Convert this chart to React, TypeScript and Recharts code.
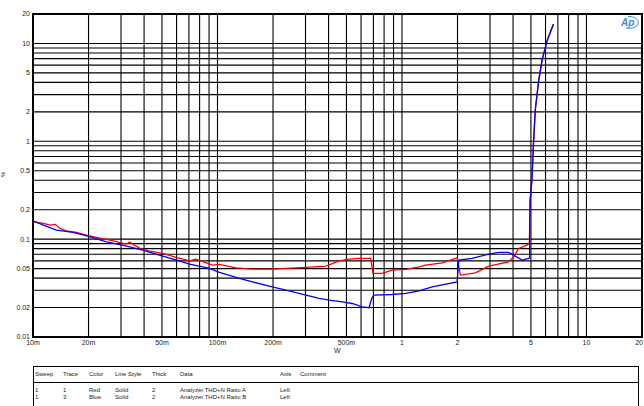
import React from "react";
import { LineChart, Line, XAxis, YAxis, CartesianGrid, ReferenceArea } from "recharts";

const xGridTicks = [
  0.01, 0.02, 0.03, 0.04, 0.05, 0.06, 0.07, 0.08, 0.09,
  0.1, 0.2, 0.3, 0.4, 0.5, 0.6, 0.7, 0.8, 0.9,
  1, 2, 3, 4, 5, 6, 7, 8, 9, 10, 20,
];
const xLabelValues = [0.01, 0.02, 0.05, 0.1, 0.2, 0.5, 1, 2, 5, 10, 20];
const xLabelTexts = ["10m", "20m", "50m", "100m", "200m", "500m", "1", "2", "5", "10", "20"];

const yGridTicks = [
  0.01, 0.02, 0.03, 0.04, 0.05, 0.06, 0.07, 0.08, 0.09,
  0.1, 0.2, 0.3, 0.4, 0.5, 0.6, 0.7, 0.8, 0.9,
  1, 2, 3, 4, 5, 6, 7, 8, 9, 10, 20,
];
const yLabelValues = [0.01, 0.02, 0.05, 0.1, 0.2, 0.5, 1, 2, 5, 10, 20];
const yLabelTexts = ["0.01", "0.02", "0.05", "0.1", "0.2", "0.5", "1", "2", "5", "10", "20"];

// Trace 1 (Red) – Analyzer.THD+N Ratio A : power (W) vs THD+N (%)
const redW = [
  0.01, 0.0114, 0.0124, 0.0132, 0.014, 0.0152, 0.0172, 0.0195, 0.0221, 0.0261,
  0.0321, 0.0334, 0.0379, 0.0429, 0.0506, 0.0598, 0.0706, 0.076, 0.0943, 0.1025,
  0.126, 0.155, 0.198, 0.235, 0.302, 0.387, 0.456, 0.517, 0.586, 0.677,
  0.697, 0.78, 0.883, 1.047, 1.236, 1.343, 1.652, 1.99, 2.075, 2.5,
  2.95, 3.78, 4.03, 4.29, 4.76, 4.9, 4.93, 4.95, 5.06, 5.17,
  5.28, 5.51, 5.75, 6.13, 6.62,
];
const redPct = [
  0.15, 0.145, 0.139, 0.1416, 0.1288, 0.1217, 0.117, 0.11, 0.1042, 0.0978,
  0.0889, 0.0933, 0.0804, 0.0755, 0.0714, 0.065, 0.0601, 0.0625, 0.0543, 0.0552,
  0.0509, 0.0494, 0.0494, 0.0502, 0.0514, 0.053, 0.0601, 0.0625, 0.0636, 0.0636,
  0.0447, 0.0447, 0.0482, 0.049, 0.0521, 0.0543, 0.0573, 0.0645, 0.0429, 0.0453,
  0.053, 0.0586, 0.066, 0.0804, 0.0869, 0.0904, 0.15, 0.25, 0.4, 1.0,
  2.1, 4.2, 6.8, 10.8, 15.7,
];

// Trace 3 (Blue) – Analyzer.THD+N Ratio B
const blueW = [
  0.01, 0.0114, 0.0134, 0.0165, 0.0198, 0.025, 0.0306, 0.0393, 0.0505, 0.06,
  0.0706, 0.0905, 0.1025, 0.1315, 0.155, 0.198, 0.235, 0.302, 0.356, 0.403,
  0.476, 0.537, 0.608, 0.663, 0.686, 0.706, 0.883, 1.047, 1.236, 1.458,
  1.99, 2.033, 2.4, 2.95, 3.34, 3.78, 4.03, 4.47, 4.86, 4.92,
  4.93, 4.95, 5.06, 5.17, 5.28, 5.51, 5.75, 6.13, 6.62,
];
const bluePct = [
  0.154, 0.139, 0.1237, 0.117, 0.1074, 0.094, 0.0869, 0.0773, 0.0671, 0.061,
  0.0556, 0.0502, 0.0457, 0.0397, 0.0366, 0.0326, 0.0301, 0.0268, 0.0248, 0.0238,
  0.0229, 0.022, 0.0203, 0.0199, 0.0248, 0.0268, 0.0272, 0.0279, 0.0296, 0.0326,
  0.0366, 0.061, 0.0636, 0.0703, 0.0731, 0.0731, 0.0687, 0.061, 0.0636, 0.064,
  0.15, 0.25, 0.4, 1.0, 2.1, 4.2, 6.8, 10.8, 15.7,
];

const tableHeaders = ["Sweep", "Trace", "Color", "Line Style", "Thick", "Data", "Axis", "Comment"];
const tableRows = [
  ["1", "1", "Red", "Solid", "2", "Analyzer.THD+N Ratio A", "Left", ""],
  ["1", "3", "Blue", "Solid", "2", "Analyzer.THD+N Ratio B", "Left", ""],
];
const columnLeft = [35, 63, 89, 115, 152, 180, 280, 300];

const redData = redW.map((w, i) => ({ w, v: redPct[i] }));
const blueData = blueW.map((w, i) => ({ w, v: bluePct[i] }));

const FONT = "'Liberation Sans', Arial, sans-serif";

const findLabel = (vals: number[], texts: string[], v: number) => {
  for (let i = 0; i < vals.length; i++) {
    if (Math.abs(vals[i] - v) / vals[i] < 1e-6) return texts[i];
  }
  return "";
};

const XTick = (props: any) => {
  const { x, y, payload } = props;
  const t = findLabel(xLabelValues, xLabelTexts, payload.value);
  if (!t) return null;
  const last = payload.value === 20;
  return (
    <text x={last ? x + 1 : x} y={y} dy="0.35em" textAnchor={last ? "end" : "middle"}
      fontSize={7} fontFamily={FONT} fill="#222">{t}</text>
  );
};

const YTick = (props: any) => {
  const { x, y, payload } = props;
  const t = findLabel(yLabelValues, yLabelTexts, payload.value);
  if (!t) return null;
  return (
    <text x={x} y={y} dy="0.35em" textAnchor="end" fontSize={7} fontFamily={FONT} fill="#222">{t}</text>
  );
};

export default function App() {
  return (
    <div style={{ position: "absolute", left: 0, top: 0, width: 644, height: 406, background: "#fff", overflow: "hidden", fontFamily: FONT }}>
      <LineChart width={644} height={360} margin={{ top: 14, right: 2, bottom: 3, left: 3 }}>
        <CartesianGrid stroke="#000" strokeWidth={1.1} />
        <XAxis dataKey="w" type="number" scale="log" domain={[0.01, 20]} allowDataOverflow
          ticks={xGridTicks} interval={0} tickLine={false} axisLine={false} tickSize={0} tickMargin={6}
          height={20} tick={<XTick />} />
        <YAxis dataKey="v" type="number" scale="log" domain={[0.01, 20]} allowDataOverflow
          ticks={yGridTicks} interval={0} tickLine={false} axisLine={false} tickSize={0} tickMargin={3}
          width={30} tick={<YTick />} />
        <ReferenceArea x1={0.01} x2={20} y1={0.01} y2={20} fill="none" stroke="#000" strokeWidth={2} ifOverflow="visible" />
        <Line data={redData} dataKey="v" stroke="#ff0000" strokeWidth={1.3} dot={false} isAnimationActive={false} type="linear" />
        <Line data={blueData} dataKey="v" stroke="#0000ff" strokeWidth={1.3} dot={false} isAnimationActive={false} type="linear" />
      </LineChart>

      <div style={{ position: "absolute", left: 334, top: 347, fontSize: 7, color: "#222" }}>W</div>
      <div style={{ position: "absolute", left: 0, top: 177, fontSize: 6, color: "#222", transform: "rotate(-90deg)", transformOrigin: "left top" }}>%</div>

      <svg style={{ position: "absolute", left: 618, top: 14 }} width={24} height={16}>
        <text x={3} y={11.5} fontSize={10} fontStyle="italic" fontWeight="bold" fill="#3b8fd4" fontFamily={FONT}>Ap</text>
        <path d="M 10 2.5 A 9 6 0 1 1 8 14" stroke="#3b8fd4" strokeWidth={1} fill="none" />
      </svg>

      <div style={{ position: "absolute", left: 33, top: 366, width: 606, height: 60, border: "1px solid #000", boxSizing: "border-box" }}>
        <div style={{ position: "absolute", left: 0, right: 0, top: 15, borderTop: "1px solid #000" }} />
      </div>
      {tableHeaders.map((h, i) => (
        <div key={"h" + i} style={{ position: "absolute", left: columnLeft[i], top: 371, fontSize: 6, color: "#222", whiteSpace: "nowrap" }}>{h}</div>
      ))}
      {tableRows.map((row, r) =>
        row.map((c, i) => (
          <div key={"r" + r + "c" + i} style={{ position: "absolute", left: columnLeft[i], top: 387 + r * 7, fontSize: 6, color: "#222", whiteSpace: "nowrap" }}>{c}</div>
        ))
      )}
    </div>
  );
}
